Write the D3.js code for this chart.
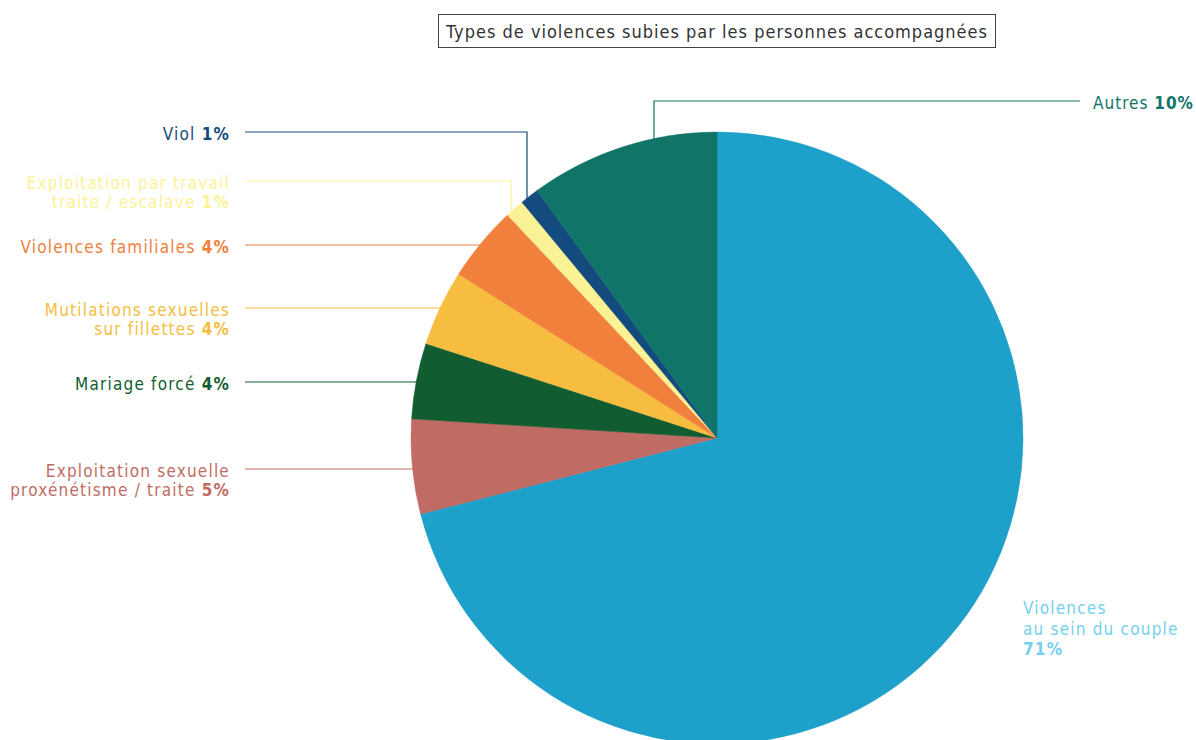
<!DOCTYPE html>
<html>
<head>
<meta charset="utf-8">
<script src="https://cdn.jsdelivr.net/npm/d3@7"></script>
<style>
  body { margin: 0; background: #fff; }
  text { font-family: "Liberation Sans Narrow", "DejaVu Sans Condensed", sans-serif; }
</style>
</head>
<body>
<svg id="chart" width="1196" height="740"></svg>
<script>
const svg = d3.select("#chart"),
    width = +svg.attr("width"),
    height = +svg.attr("height");

// data, in clockwise order from the top
const categories = ["couple", "expl_sex", "mariage", "mutilations", "familiales", "travail", "viol", "autres"];
const values = [71, 5, 4, 4, 4, 1, 1, 10];
const labelLines = [
    ["Violences", "au sein du couple"],
    ["Exploitation sexuelle", "proxénétisme / traite"],
    ["Mariage forcé"],
    ["Mutilations sexuelles", "sur fillettes"],
    ["Violences familiales"],
    ["Exploitation par travail", "traite / escalave"],
    ["Viol"],
    ["Autres"]
];
const sliceColors = ["#1da0c9", "#c06b64", "#115d31", "#f6bd41", "#f0803c", "#fbf296", "#134b7e", "#107469"];
const textColors = ["#74d0f0", "#c06b64", "#115d31", "#f6bd41", "#f0803c", "#fbf296", "#134b7e", "#107469"];

// label layout: y of the leader line, x of the elbow (null = straight line to the arc)
const leaderY = [null, 469, 382, 308, 245, 181, 132, 101];
const elbowX = [null, null, null, null, null, 511, 527, 654];

const cx = 717, cy = 438, r = 306;

const pie = d3.pie().sort(null).value(d => d.value).startAngle(0).endAngle(2 * Math.PI);
const arc = d3.arc().innerRadius(0).outerRadius(r);

const data = categories.map((c, i) => ({
    key: c, value: values[i], lines: labelLines[i],
    color: sliceColors[i], tcolor: textColors[i],
    ly: leaderY[i], ex: elbowX[i]
}));

const g = svg.append("g").attr("transform", "translate(" + cx + "," + cy + ")");

g.selectAll("path")
    .data(pie(data))
    .enter()
    .append("path")
    .attr("d", arc)
    .attr("fill", d => d.data.color)
    .attr("stroke", d => d.data.color)
    .attr("stroke-width", 0.5);

// arc helpers for leader lines
function arcY(x) { return cy - Math.sqrt(r * r - (x - cx) * (x - cx)); }
function arcX(y) { return cx - Math.sqrt(r * r - (y - cy) * (y - cy)); }

const fs = 17;

data.forEach(function (d, i) {
    if (d.ly === null) return;
    let pts;
    if (d.key === "autres") {
        pts = [[1080, d.ly], [d.ex, d.ly], [d.ex, arcY(d.ex) + 2]];
    } else if (d.ex !== null) {
        pts = [[245, d.ly], [d.ex, d.ly], [d.ex, arcY(d.ex) + 4]];
    } else {
        pts = [[245, d.ly], [arcX(d.ly) + 2, d.ly]];
    }
    svg.append("path")
        .attr("d", d3.line()(pts))
        .attr("fill", "none")
        .attr("stroke", d.tcolor)
        .attr("stroke-width", 1.2);

    const left = d.key === "autres";
    const n = d.lines.length;
    const t = svg.append("text")
        .attr("text-anchor", left ? "start" : "end")
        .attr("fill", d.tcolor)
        .style("font-size", fs + "px")
        .style("letter-spacing", left ? "1px" : "1.2px");
    const y0 = d.ly + 8;
    d.lines.forEach(function (line, j) {
        t.append("tspan")
            .attr("x", left ? 1093 : 230)
            .attr("y", y0 + j * 18.5)
            .text(line);
        if (j === n - 1) {
            t.append("tspan").text(" ");
            t.append("tspan").style("font-weight", "bold").text(d.value + "%");
        }
    });
});

// couple label, no leader
const c0 = data[0];
const tc = svg.append("text")
    .attr("fill", c0.tcolor)
    .style("font-size", fs + "px")
    .style("letter-spacing", "1.2px");
c0.lines.forEach(function (line, j) {
    tc.append("tspan").attr("x", 1023).attr("y", 614 + j * 20.5).text(line);
});
tc.append("tspan").attr("x", 1023).attr("y", 614 + 2 * 20.5)
    .style("font-weight", "bold").text(c0.value + "%");

// title box
svg.append("rect")
    .attr("x", 438.5).attr("y", 14.5)
    .attr("width", 557).attr("height", 33)
    .attr("fill", "none")
    .attr("stroke", "#444")
    .attr("stroke-width", 1);
svg.append("text")
    .attr("x", 717).attr("y", 38)
    .attr("text-anchor", "middle")
    .attr("fill", "#333")
    .style("font-size", "18px")
    .style("letter-spacing", "1px")
    .text("Types de violences subies par les personnes accompagnées");
</script>
</body>
</html>
